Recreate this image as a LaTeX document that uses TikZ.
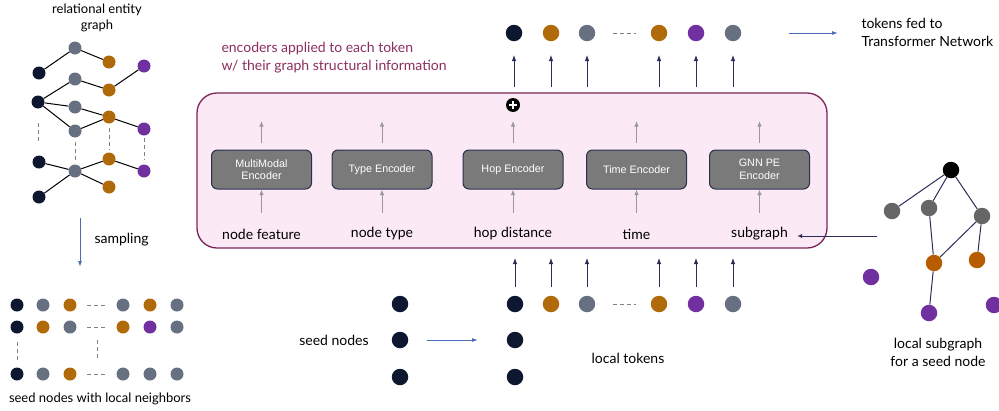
\documentclass[tikz,border=0pt]{standalone}
\usepackage{fontspec}
\setmainfont{Lato}
\newfontfamily\encfont{Liberation Sans}
\usetikzlibrary{arrows.meta}
\definecolor{cdark}{HTML}{0D1730}
\definecolor{cgray}{HTML}{667080}
\definecolor{corange}{HTML}{B06A0A}
\definecolor{cpurple}{HTML}{7030A0}
\definecolor{sgray}{HTML}{666666}
\definecolor{sorange}{HTML}{B85C00}
\definecolor{navy}{HTML}{2A2D5A}
\definecolor{cblue}{HTML}{4A6BB5}
\definecolor{maroon}{HTML}{7B2457}
\definecolor{pinkfill}{HTML}{FBEAF5}
\definecolor{encfill}{HTML}{7A7A7A}
\definecolor{encborder}{HTML}{2A2F4F}
\definecolor{txtmaroon}{HTML}{8B2E5E}
\tikzset{
  sdot/.style={circle,inner sep=0pt,minimum size=13pt,fill=#1},
  tdot/.style={circle,inner sep=0pt,minimum size=16.5pt,fill=#1},
  gedge/.style={black,line width=1pt},
  dashline/.style={gray,dash pattern=on 4pt off 3pt,line width=0.8pt},
  encbox/.style={rounded corners=6pt,fill=encfill,draw=encborder,line width=1pt,minimum width=100pt,minimum height=39pt,text=white,font=\encfont\fontsize{10.8}{12.5}\selectfont,align=center},
  grayarrow/.style={-{Latex[length=5.5pt,width=4.5pt]},gray!80,line width=1pt},
  navyarrow/.style={-{Latex[length=6pt,width=4.5pt]},navy,line width=0.8pt},
  bluearrow/.style={-{Latex[length=6pt,width=4pt]},cblue,line width=1pt},
  lbl/.style={font=\fontsize{14}{18}\selectfont,text=black,align=center},
  slbl/.style={font=\fontsize{13}{16}\selectfont,text=black,align=center},
}
\begin{document}
\begin{tikzpicture}[x=1pt,y=-1pt]
\useasboundingbox (0,0) rectangle (999,410);
% ---------- left relational graph ----------
\node[slbl] (title) at (97,18) {relational entity\\graph};
\node[sdot=cgray]   (g1) at (75,48) {};
\node[sdot=cdark]   (d1) at (39,73) {};
\node[sdot=corange] (o1) at (109,62) {};
\node[sdot=cpurple] (p1) at (144,66) {};
\node[sdot=cgray]   (g2) at (75,79) {};
\node[sdot=corange] (o2) at (109,90) {};
\node[sdot=cdark]   (d2) at (38,102) {};
\node[sdot=cgray]   (g3) at (75,107) {};
\node[sdot=corange] (o3) at (109,117) {};
\node[sdot=cpurple] (p2) at (144,129) {};
\node[sdot=cgray]   (g4) at (75,131) {};
\node[sdot=cdark]   (d3) at (39,162) {};
\node[sdot=cgray]   (g5) at (75,171) {};
\node[sdot=corange] (o4) at (109,159) {};
\node[sdot=cpurple] (p3) at (144,171) {};
\node[sdot=corange] (o5) at (109,187) {};
\node[sdot=cdark]   (d4) at (39,197) {};
\draw[gedge] (d1) -- (g1); \draw[gedge] (g1) -- (o1);
\draw[gedge] (g2) -- (o2); \draw[gedge] (o2) -- (p1);
\draw[gedge] (d2) -- (g2); \draw[gedge] (d2) -- (g3); \draw[gedge] (d2) -- (g4);
\draw[gedge] (g3) -- (o3); \draw[gedge] (g4) -- (o3); \draw[gedge] (o3) -- (p2);
\draw[gedge] (d3) -- (g5); \draw[gedge] (g5) -- (o4); \draw[gedge] (o4) -- (p3);
\draw[gedge] (g5) -- (o5); \draw[gedge] (g5) -- (d4);
\draw[dashline] (38,123) -- (38,144);
\draw[dashline] (75,142) -- (75,163);
\draw[dashline] (109,128) -- (109,150);
\draw[dashline] (144,138) -- (144,160);
% sampling
\coordinate (sa) at (80,218);
\coordinate (sb) at (80,267);
\draw[bluearrow] (sa) -- (sb);
\node[lbl,anchor=west] (samp) at (91,240) {sampling};
% ---------- bottom-left grid ----------
\foreach \c/\x [count=\i] in {cdark/17,cgray/43,corange/70,cgray/123,corange/150,cgray/177}
  \node[sdot=\c] (ra\i) at (\x,305) {};
\foreach \c/\x [count=\i] in {cdark/17,corange/43,cgray/70,corange/123,cpurple/150,cgray/177}
  \node[sdot=\c] (rb\i) at (\x,327) {};
\foreach \c/\x [count=\i] in {cdark/17,cgray/43,corange/70,cgray/123,cgray/150,cgray/177}
  \node[sdot=\c] (rc\i) at (\x,374) {};
\draw[dashline] (87,305) -- (106,305);
\draw[dashline] (87,327) -- (106,327);
\draw[dashline] (87,374) -- (106,374);
\draw[dashline] (17,342) -- (17,360);
\draw[dashline] (97,340) -- (97,360);
\node[slbl] (seedlbl) at (100,399) {seed nodes with local neighbors};
% ---------- main encoder box ----------
\node[draw=maroon,fill=pinkfill,line width=1.3pt,rounded corners=20pt,minimum width=630pt,minimum height=155pt,inner sep=0pt] (main) at (512,170.5) {};
\node[text=txtmaroon,font=\fontsize{14}{17.5}\selectfont,align=left,anchor=west] (enctxt) at (218,57.5) {encoders applied to each token\\w/ their graph structural information};
\foreach \n/\x/\t/\l in {mm/261.5/{MultiModal\\Encoder}/node feature, ty/382/{Type Encoder}/node type, hop/513/{Hop Encoder}/hop distance, ti/636.5/{Time Encoder}/time, gnn/759.5/{GNN PE\\Encoder}/subgraph}{
  \node[encbox] (\n) at (\x,169.5) {\t};
  \node[lbl] (\n l) at (\x,234) {\l};
  \coordinate (\n t) at (\x,121);
  \coordinate (\n a) at (\x,143);
  \coordinate (\n b) at (\x,213);
  \draw[grayarrow] (\n a) -- (\n t);
  \draw[grayarrow] (\n b) -- (\n.south);
}
% plus
\node[circle,fill=black,inner sep=0pt,minimum size=14pt] (plus) at (513,105) {};
\draw[white,line width=1.8pt] (plus.center) ++(-4pt,0) -- ++(8pt,0);
\draw[white,line width=1.8pt] (plus.center) ++(0,-4pt) -- ++(0,8pt);
% ---------- top tokens ----------
\foreach \c/\x [count=\i] in {cdark/514,corange/551,cgray/587,corange/659,cpurple/696,cgray/733}{
  \node[tdot=\c] (tt\i) at (\x,33) {};
  \coordinate (tb\i) at (\x,87);
  \coordinate (te\i) at (\x,55);
  \draw[navyarrow] (tb\i) -- (te\i);
}
\draw[dashline] (613,33) -- (636,33);
\coordinate (tfa) at (789,33);
\coordinate (tfb) at (838,33);
\draw[bluearrow] (tfa) -- (tfb);
\node[lbl,anchor=west,align=left] (tfl) at (858,32.5) {tokens fed to\\Transformer Network};
% ---------- bottom tokens ----------
\foreach \c/\x [count=\i] in {cdark/515,corange/551,cgray/587,corange/659,cpurple/696,cgray/733}{
  \node[tdot=\c] (bt\i) at (\x,304) {};
  \coordinate (bu\i) at (\x,258);
  \coordinate (bv\i) at (\x,287);
  \draw[navyarrow] (bv\i) -- (bu\i);
}
\draw[dashline] (613,304) -- (636,304);
\node[tdot=cdark] (lt2) at (515,340) {};
\node[tdot=cdark] (lt3) at (515,377) {};
\node[tdot=cdark] (s1) at (400,304) {};
\node[tdot=cdark] (s2) at (400,340) {};
\node[tdot=cdark] (s3) at (400,377) {};
\node[lbl] (seedn) at (334,340) {seed nodes};
\coordinate (sna) at (427,340);
\coordinate (snb) at (478,340);
\draw[bluearrow] (sna) -- (snb);
\node[lbl] (loct) at (628,358) {local tokens};
% ---------- right subgraph ----------
\node[tdot=black] (k0) at (951,170) {};
\node[tdot=sgray] (k1) at (892,211) {};
\node[tdot=sgray] (k2) at (929,208) {};
\node[tdot=sgray] (k3) at (982,216) {};
\node[tdot=sorange] (k4) at (934,263) {};
\node[tdot=sorange] (k5) at (977,260) {};
\node[tdot=cpurple] (k6) at (871,277) {};
\node[tdot=cpurple] (k7) at (929,313) {};
\node[tdot=cpurple] (k8) at (994,305) {};
\draw[navy,line width=1pt] (k0) -- (k1);
\draw[navy,line width=1pt] (k0) -- (k2);
\draw[navy,line width=1pt] (k0) -- (k3);
\draw[navy,line width=1pt] (k2) -- (k4);
\draw[navy,line width=1pt] (k3) -- (k4);
\draw[navy,line width=1pt] (k3) -- (k5);
\draw[navy,line width=1pt] (k4) -- (k7);
\coordinate (sgs) at (877,236);
\coordinate (sge) at (797,236);
\draw[-{Latex[open,length=5pt,width=4pt]},navy,line width=1pt] (sgs) -- (sge);
\node[lbl] (sgl) at (938,352) {local subgraph\\for a seed node};
\end{tikzpicture}
\end{document}
